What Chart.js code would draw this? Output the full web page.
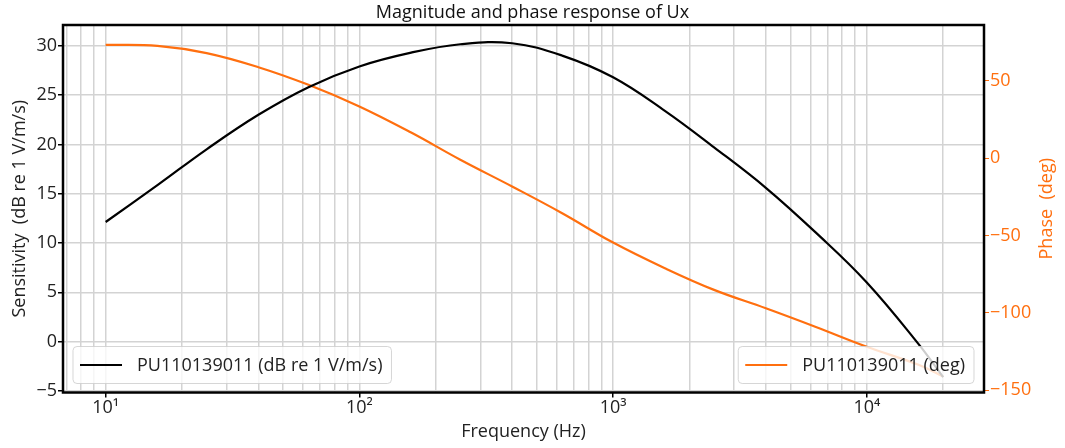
<!DOCTYPE html>
<html>
<head>
<meta charset="utf-8">
<script src="https://cdn.jsdelivr.net/npm/chart.js@4.4.1/dist/chart.umd.min.js"></script>
<style>
html,body{margin:0;padding:0;background:#fff;}
</style>
</head>
<body>
<canvas id="myChart" width="1065" height="448"></canvas>
<script>
// values
const freqs = [10, 16, 25, 40, 63, 100, 160, 250, 400, 630, 1000, 1600, 2500, 4000, 6300, 10000, 16000, 20000];
const magDb = [12.13, 15.86, 19.5, 23.0, 25.8, 27.9, 29.3, 30.15, 30.25, 29.0, 26.8, 23.4, 19.7, 15.6, 11.05, 6.0, -0.25, -3.6];
const phaseDeg = [73.4, 72.7, 68.0, 58.9, 47.5, 33.5, 16.6, -1.0, -18.3, -35.6, -54.6, -71.2, -85.2, -97.1, -109.2, -122.0, -133.7, -141.3];

const freqTicks = [7, 8, 9, 10, 20, 30, 40, 50, 60, 70, 80, 90, 100, 200, 300, 400, 500, 600, 700, 800, 900,
  1000, 2000, 3000, 4000, 5000, 6000, 7000, 8000, 9000, 10000, 20000];
const decadeLabels = {10: '10\u00b9', 100: '10\u00b2', 1000: '10\u00b3', 10000: '10\u2074'};

const ORANGE = '#ff6f0f';
const GRID = '#d3d3d3';
const FONT = "'Open Sans', sans-serif";
Chart.defaults.font.family = FONT;
Chart.defaults.color = '#222';

function minus(v) {
  return v < 0 ? '\u2212' + Math.abs(v) : String(v);
}

const framePlugin = {
  id: 'frame',
  afterDraw(chart) {
    const {ctx, chartArea: a} = chart;
    ctx.save();
    ctx.strokeStyle = '#000';
    ctx.lineWidth = 2.5;
    ctx.strokeRect(a.left, a.top, a.right - a.left, a.bottom - a.top);
    // right axis title, reads bottom to top like matplotlib
    ctx.translate(1047, (a.top + a.bottom) / 2);
    ctx.rotate(-Math.PI / 2);
    ctx.fillStyle = ORANGE;
    ctx.font = '18px ' + FONT;
    ctx.textAlign = 'center';
    ctx.textBaseline = 'middle';
    ctx.fillText('Phase  (deg)', 0, 0);
    ctx.restore();
  }
};

function legendBox(ctx, x, y, label, color, fromRight) {
  ctx.font = '18px ' + FONT;
  const tw = ctx.measureText(label).width;
  const w = 7 + 42 + 15 + tw + 9;
  const h = 37;
  const bx = fromRight ? x - w : x;
  ctx.beginPath();
  ctx.roundRect(bx, y, w, h, 4);
  ctx.fillStyle = 'rgba(255,255,255,0.8)';
  ctx.fill();
  ctx.strokeStyle = 'rgba(204,204,204,0.8)';
  ctx.lineWidth = 1;
  ctx.stroke();
  ctx.beginPath();
  ctx.moveTo(bx + 7, y + h / 2);
  ctx.lineTo(bx + 49, y + h / 2);
  ctx.strokeStyle = color;
  ctx.lineWidth = 2.2;
  ctx.stroke();
  ctx.fillStyle = '#222';
  ctx.textAlign = 'left';
  ctx.textBaseline = 'middle';
  ctx.fillText(label, bx + 64, y + h / 2 + 1);
}

const twoLegends = {
  id: 'twoLegends',
  afterDatasetsDraw(chart) {
    const {ctx, chartArea: a} = chart;
    const ds = chart.data.datasets;
    ctx.save();
    legendBox(ctx, a.left + 10, a.bottom - 46, ds[0].label, ds[0].borderColor, false);
    legendBox(ctx, a.right - 10, a.bottom - 46, ds[1].label, ds[1].borderColor, true);
    ctx.restore();
  }
};

const ctx = document.getElementById('myChart').getContext('2d');
const chart = new Chart(ctx, {
  type: 'line',
  data: {
    datasets: [{
      label: 'PU110139011 (dB re 1 V/m/s)',
      data: freqs.map((f, i) => ({x: f, y: magDb[i]})),
      borderColor: '#000',
      borderWidth: 2.2,
      pointRadius: 0,
      tension: 0.4,
      yAxisID: 'y'
    }, {
      label: 'PU110139011 (deg)',
      data: freqs.map((f, i) => ({x: f, y: phaseDeg[i]})),
      borderColor: ORANGE,
      borderWidth: 2.2,
      pointRadius: 0,
      tension: 0.4,
      yAxisID: 'y1'
    }]
  },
  options: {
    responsive: false,
    animation: false,
    devicePixelRatio: 1,
    layout: {padding: 0},
    plugins: {
      legend: {display: false},
      tooltip: {enabled: false},
      title: {
        display: true,
        text: 'Magnitude and phase response of Ux',
        color: '#111',
        font: {size: 18, weight: 'normal'},
        padding: {top: 2, bottom: 1.4}
      }
    },
    scales: {
      x: {
        type: 'logarithmic',
        min: 6.79,
        max: 28970,
        afterBuildTicks(scale) {
          scale.ticks = freqTicks.map(v => ({value: v, major: !!decadeLabels[v]}));
        },
        afterFit(scale) { scale.height = 55.5; },
        border: {display: false},
        grid: {
          color: GRID,
          lineWidth: 1.5,
          tickLength: 5,
          tickColor: c => (c.tick && decadeLabels[c.tick.value]) ? '#000' : 'rgba(0,0,0,0)'
        },
        ticks: {
          autoSkip: false,
          maxRotation: 0,
          padding: 0,
          font: {size: 18},
          callback: v => decadeLabels[v] || ''
        },
        title: {
          display: true,
          text: 'Frequency (Hz)',
          font: {size: 18},
          padding: {top: 0, bottom: 5}
        }
      },
      y: {
        position: 'left',
        min: -5.15,
        max: 32.1,
        afterFit(scale) { scale.width = 63; },
        border: {display: false},
        grid: {color: GRID, lineWidth: 1.5, tickLength: 5, tickColor: '#000'},
        ticks: {stepSize: 5, includeBounds: false, padding: 1, font: {size: 18}, callback: minus},
        title: {
          display: true,
          text: 'Sensitivity  (dB re 1 V/m/s)',
          font: {size: 18},
          padding: {top: 9}
        }
      },
      y1: {
        position: 'right',
        min: -151.6,
        max: 86.2,
        afterFit(scale) { scale.width = 81; },
        border: {display: false},
        grid: {drawOnChartArea: false, tickLength: 5, tickColor: ORANGE},
        ticks: {stepSize: 50, includeBounds: false, padding: 1, color: ORANGE, font: {size: 18}, callback: minus}
      }
    }
  },
  plugins: [twoLegends, framePlugin]
});
</script>
</body>
</html>
